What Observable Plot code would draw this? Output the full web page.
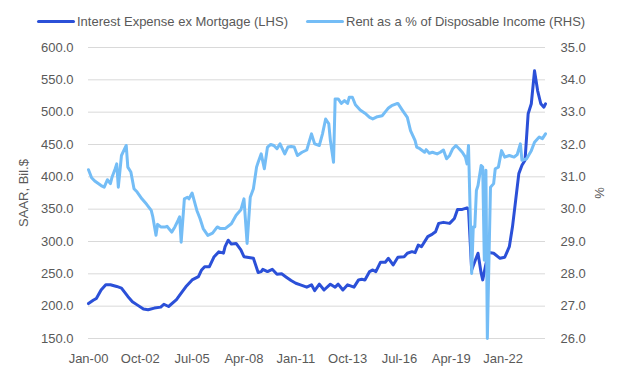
<!DOCTYPE html>
<html><head><meta charset="utf-8">
<script src="https://cdn.jsdelivr.net/npm/d3@7"></script>
<script src="https://cdn.jsdelivr.net/npm/@observablehq/plot@0.6"></script>
<style>
body{margin:0;background:#fff;font-family:"Liberation Sans",Arial,sans-serif;}
#legend{position:relative;height:36px;width:620px;font-size:13px;color:#595959;}
.sw{position:absolute;top:20px;height:3px;width:38px;border-radius:2px;}
.lt{position:absolute;top:14px;line-height:16px;white-space:nowrap;}
</style></head><body>
<div id="legend"></div><div id="chart"></div>
<script>
const seriesNames = ["Interest Expense ex Mortgage (LHS)", "Rent as a % of Disposable Income (RHS)"];
const seriesColors = ["#2b50d8", "#74bdf6"];
const leftAxisLabel = "SAAR, Bil.$";
const rightAxisLabel = "%";
const leftTicks = [150,200,250,300,350,400,450,500,550,600];
const rentTicks = [26,27,28,29,30,31,32,33,34,35];
const xTickDates = ["2000-01","2002-10","2005-07","2008-04","2011-01","2013-10","2016-07","2019-04","2022-01"];

const interestDates = ["2000-01","2000-04","2000-06","2000-09","2000-12","2001-03","2001-07","2001-10","2002-02","2002-05","2002-08","2002-12","2003-03","2003-07","2003-11","2004-01","2004-04","2004-09","2004-12","2005-03","2005-07","2005-11","2006-01","2006-03","2006-06","2006-09","2006-12","2007-03","2007-04","2007-06","2007-08","2007-11","2008-02","2008-04","2008-10","2009-01","2009-03","2009-04","2009-07","2009-10","2010-01","2010-04","2010-07","2010-10","2011-01","2011-04","2011-08","2011-11","2012-01","2012-04","2012-07","2012-11","2013-02","2013-04","2013-07","2013-10","2014-02","2014-05","2014-07","2014-09","2014-12","2015-02","2015-04","2015-07","2015-10","2015-12","2016-03","2016-06","2016-10","2016-12","2017-03","2017-05","2017-07","2017-09","2018-01","2018-04","2018-06","2018-08","2018-11","2019-03","2019-06","2019-08","2019-11","2020-02","2020-03","2020-05","2020-07","2020-09","2020-11","2020-12","2021-02","2021-04","2021-07","2021-11","2022-02","2022-05","2022-07","2022-09","2022-11","2023-01","2023-03","2023-05","2023-07","2023-09","2023-11","2024-01","2024-03","2024-04"];
const interestValues = [204,209,212,225,233,233,230.5,228,215,207,202,195.5,194.4,197,198.5,203,199.5,210,220,230,240.6,245.7,256,261,261,276.5,284,282,292,302,296,297,287,276.5,274,252,253.5,257,253.5,257,249.4,250,244.8,239.6,235.5,233,229.4,233,224,234,225,234,229.4,234,225,233,229.4,240.6,241.6,240.6,253.5,256,253.5,268,268,274,263.7,275.6,276.5,281.8,284.3,282.7,294.5,292,307.6,311.5,315,328,329.6,328,335.7,349.6,349.6,352,350,256,269,281.8,251,240.6,265,283,281.8,274,275.6,292,322.7,364,405,418,425.6,497.6,513,564,533,513,507.7,513];

const rentDates = ["2000-01","2000-03","2000-05","2000-09","2000-11","2001-01","2001-03","2001-04","2001-06","2001-07","2001-08","2001-10","2002-01","2002-02","2002-04","2002-06","2002-08","2002-11","2003-02","2003-05","2003-06","2003-08","2003-09","2003-11","2004-02","2004-03","2004-06","2004-08","2004-10","2004-11","2004-12","2005-02","2005-04","2005-05","2005-07","2005-08","2005-10","2005-12","2006-02","2006-05","2006-08","2006-11","2007-01","2007-04","2007-08","2007-11","2008-02","2008-04","2008-06","2008-08","2008-10","2008-12","2009-01","2009-03","2009-05","2009-07","2009-09","2009-11","2010-01","2010-03","2010-06","2010-08","2010-10","2010-12","2011-02","2011-05","2011-08","2011-11","2012-01","2012-04","2012-06","2012-08","2012-10","2012-11","2013-01","2013-02","2013-04","2013-06","2013-08","2013-10","2013-11","2014-01","2014-03","2014-06","2014-09","2014-12","2015-02","2015-05","2015-08","2015-11","2015-12","2016-02","2016-05","2016-06","2016-09","2016-12","2017-02","2017-05","2017-06","2017-08","2017-11","2017-12","2018-02","2018-04","2018-07","2018-09","2018-11","2019-01","2019-03","2019-05","2019-07","2019-09","2019-11","2020-01","2020-02","2020-03","2020-05","2020-06","2020-07","2020-08","2020-09","2020-11","2020-12","2021-01","2021-02","2021-03","2021-04","2021-05","2021-07","2021-08","2021-10","2021-12","2022-02","2022-05","2022-08","2022-10","2022-12","2023-01","2023-04","2023-07","2023-09","2023-12","2024-02","2024-04"];
const rentValues = [31.22,30.97,30.87,30.73,30.68,30.91,30.79,30.99,31.25,31.40,30.68,31.66,31.97,31.30,31.15,30.63,30.53,30.32,30.15,29.96,29.76,29.19,29.53,29.45,29.45,29.47,29.29,29.45,29.65,29.76,28.98,30.32,30.37,30.32,30.50,30.32,29.96,29.71,29.40,29.19,29.26,29.45,29.40,29.40,29.55,29.81,29.98,30.32,28.94,30.37,30.63,31.30,31.45,31.71,31.25,31.92,32.00,31.97,31.87,32.02,31.71,31.92,31.94,31.92,31.66,31.76,31.83,32.33,32.02,31.97,32.33,32.79,32.64,32.12,31.45,33.41,33.41,33.27,33.36,33.27,33.46,33.46,33.23,33.07,32.97,32.84,32.79,32.86,32.89,33.07,33.13,33.20,33.26,33.27,33.05,32.84,32.43,32.12,31.92,31.87,31.76,31.84,31.73,31.76,31.71,31.76,31.83,31.56,31.66,31.87,31.97,31.87,31.76,31.61,31.40,31.97,28.01,29.45,29.45,30.58,30.73,31.35,31.30,28.42,31.20,26.0,28.42,30.68,30.79,31.25,31.30,31.81,31.61,31.66,31.61,31.69,32.02,31.51,31.56,31.81,32.07,32.23,32.18,32.33];

// legend (HTML, above the SVG)
const legendPos = [{sw:37, tx:77},{sw:306, tx:346}];
const legend = document.getElementById("legend");
seriesNames.forEach((name,i)=>{
  const s=document.createElement("div"); s.className="sw"; s.style.left=legendPos[i].sw+"px"; s.style.background=seriesColors[i]; legend.appendChild(s);
  const t=document.createElement("div"); t.className="lt"; t.style.left=legendPos[i].tx+"px"; t.textContent=name; legend.appendChild(t);
});

const parse = d3.utcParse("%Y-%m");
const toLeft = v => 150 + (v - 26) * 50;
const fromLeft = y => 26 + (y - 150) / 50;
const interest = interestDates.map((d,i)=>({date:parse(d), value:interestValues[i]}));
const rent = rentDates.map((d,i)=>({date:parse(d), value:toLeft(rentValues[i])}));

const chart = Plot.plot({
  width:620, height:335,
  marginLeft:88, marginRight:75, marginTop:11, marginBottom:33,
  style:{fontFamily:"'Liberation Sans', Arial, sans-serif", fontSize:"13px", color:"#595959", background:"white", overflow:"visible"},
  x:{type:"utc", domain:[parse("2000-01"), parse("2024-04")]},
  y:{domain:[150,600]},
  marks:[
    Plot.gridY(leftTicks,{stroke:"#d9d9d9", strokeOpacity:1, strokeWidth:1}),
    Plot.axisY(leftTicks,{anchor:"left", tickSize:0, tickPadding:15, tickFormat:d=>d.toFixed(1), label:null}),
    Plot.axisY(rentTicks.map(toLeft),{anchor:"right", tickSize:0, tickPadding:15, tickFormat:d=>fromLeft(d).toFixed(1), label:null}),
    Plot.axisX(xTickDates.map(parse),{tickSize:0, tickPadding:15, tickFormat:d3.utcFormat("%b-%y"), label:null}),
    Plot.line(interest,{x:"date", y:"value", stroke:seriesColors[0], strokeWidth:3}),
    Plot.line(rent,{x:"date", y:"value", stroke:seriesColors[1], strokeWidth:3}),
    Plot.text([leftAxisLabel],{frameAnchor:"left", dx:-65, rotate:-90, textAnchor:"middle", lineAnchor:"middle", fill:"#595959", fontSize:13}),
    Plot.text([rightAxisLabel],{frameAnchor:"right", dx:54, rotate:-90, textAnchor:"middle", lineAnchor:"middle", fill:"#595959", fontSize:13})
  ]
});
document.getElementById("chart").appendChild(chart);
</script>
</body></html>
